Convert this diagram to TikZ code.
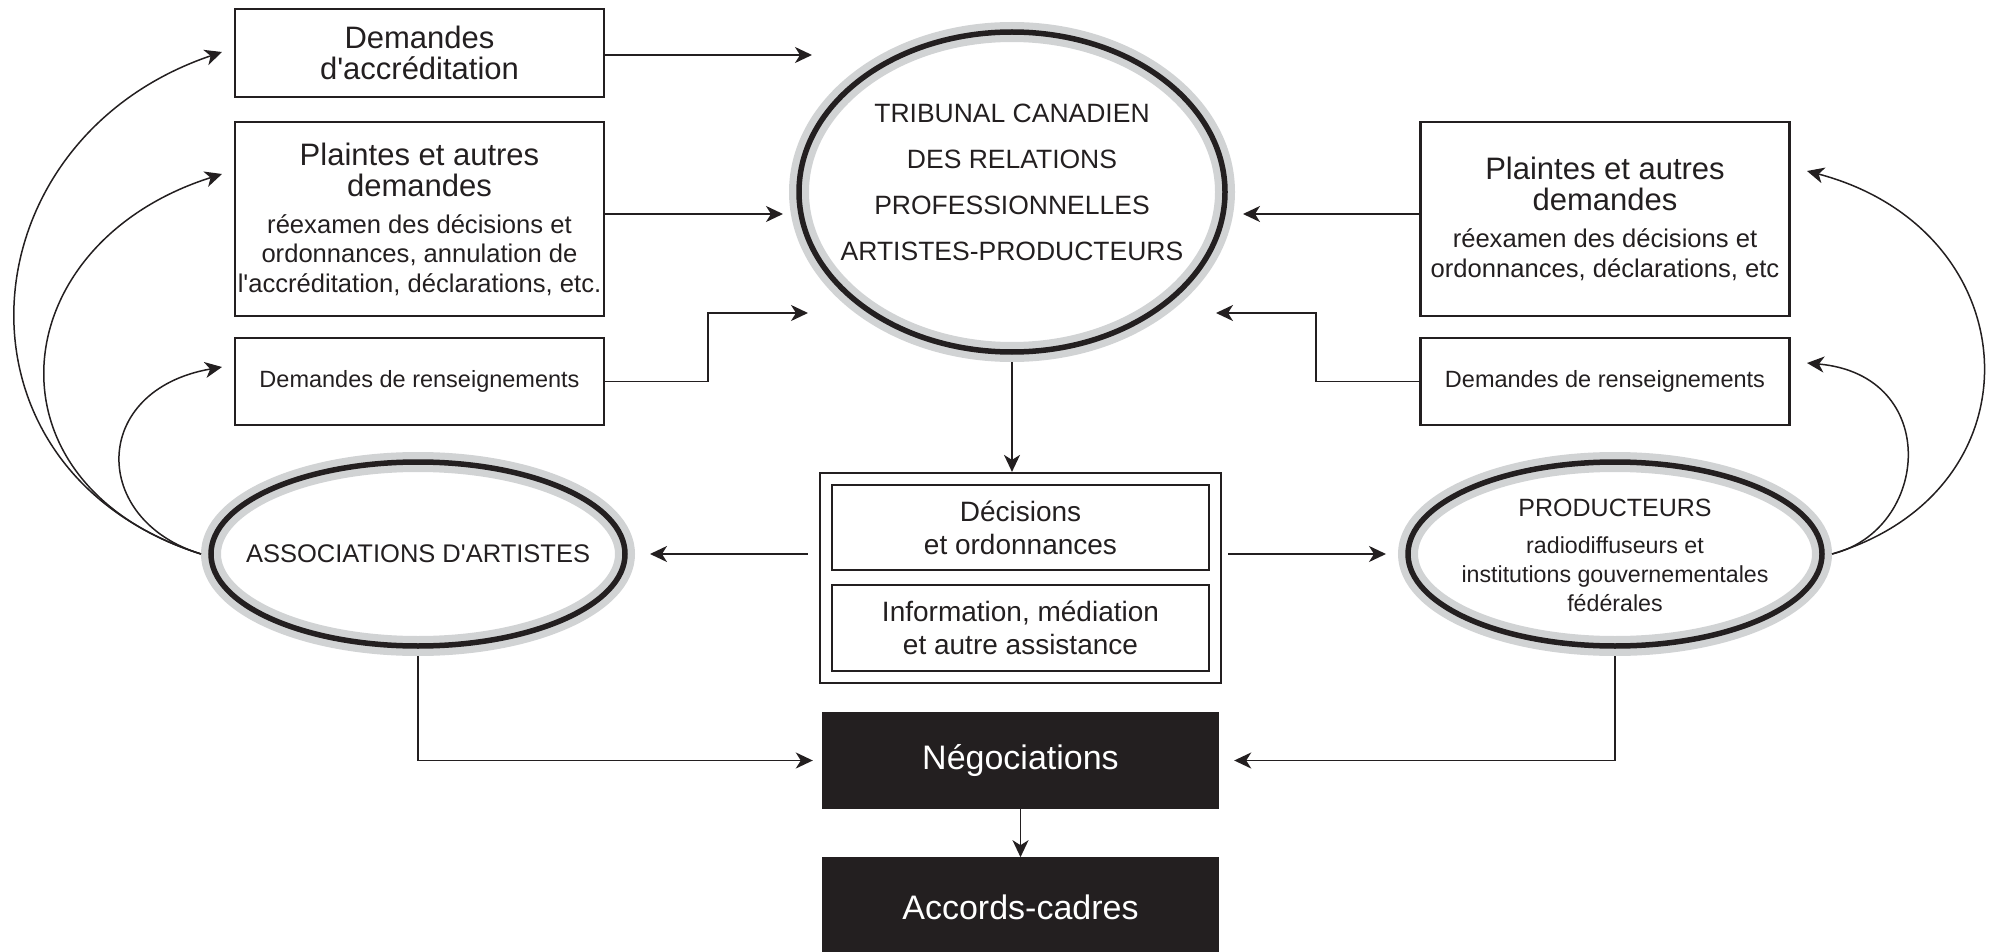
\documentclass[tikz,border=0pt]{standalone}
\usepackage{fontspec}
\setmainfont{Liberation Sans}[Ligatures=TeXOff]
\usepackage{xcolor}
\usetikzlibrary{arrows.meta,shapes.geometric,positioning}

\definecolor{ink}{HTML}{231F20}
\definecolor{ringgray}{HTML}{D1D3D4}

\newcommand{\bigtxt}{\fontsize{31}{31}\selectfont}
\newcommand{\subtxt}{\fontsize{25.6}{29.5}\selectfont\spaceskip=0pt\xspaceskip=0pt}
\newcommand{\captxt}{\fontsize{26.5}{46}\selectfont}

\begin{document}
\begin{tikzpicture}[x=1pt,y=-1pt,
	box/.style={rectangle,draw=ink,line width=2.2pt,minimum width=369pt,inner sep=0pt,
		text width=366pt,align=flush center,text=ink,font=\bigtxt},
	decbox/.style={rectangle,draw=ink,line width=2.2pt,minimum width=377pt,inner sep=0pt,
		text width=370pt,align=flush center,text=ink,font=\fontsize{28}{33}\selectfont},
	blackbox/.style={rectangle,fill=ink,minimum width=397pt,inner sep=0pt,text=white,
		font=\fontsize{34}{34}\selectfont},
	ring/.style={ellipse,draw=ink,line width=5.5pt,preaction={draw=ringgray,line width=20pt},
		inner sep=0pt,outer sep=10pt},
	ringtxt/.style={align=flush center,text=ink,inner sep=0pt},
	arr/.style={draw=ink,line width=1.9pt,-{Stealth[length=17pt,width=16pt,inset=5pt]}},
	loop/.style={draw=ink,line width=1.5pt,-{Stealth[length=17pt,width=16pt,inset=5pt]}}]
	\useasboundingbox (0,0) rectangle (1990,952);

	% left column
	\node[box,minimum height=88pt] (a1) at (419.5,53) {Demandes\\d'accréditation};
	\node[box,minimum height=194pt] (a2) at (419.5,219) {Plaintes et autres\\demandes\par\vspace{7.5pt}%
		{\subtxt réexamen des décisions et\\ordonnances, annulation de\\l'accréditation, déclarations, etc.\par}};
	\node[box,minimum height=87pt,font=\fontsize{23.5}{28}\selectfont] (a3) at (419.5,381.5) {Demandes de renseignements};

	% right column
	\node[box,minimum height=194pt] (b2) at (1605,219) {Plaintes et autres\\demandes\par\vspace{7.5pt}%
		{\subtxt réexamen des décisions et\\ordonnances, déclarations, etc\par}};
	\node[box,minimum height=87pt,font=\fontsize{23.5}{28}\selectfont] (b3) at (1605,381.5) {Demandes de renseignements};

	% ellipses
	\node[ring,minimum width=426pt,minimum height=320pt] (trib) at (1012,192) {};
	\node[ringtxt,font=\captxt] (tribtxt) at (1012,182) {TRIBUNAL CANADIEN\\DES RELATIONS\\PROFESSIONNELLES\\ARTISTES-PRODUCTEURS};
	\node[ring,minimum width=414pt,minimum height=184pt] (ass) at (418,554) {};
	\node[ringtxt,font=\fontsize{25.5}{25.5}\selectfont] (asstxt) at (ass.center) {ASSOCIATIONS D'ARTISTES};
	\node[ring,minimum width=414pt,minimum height=184pt] (prod) at (1615,554) {};
	\node[ringtxt,text width=340pt,font=\fontsize{25}{29}\selectfont] (prodtxt) at (1615,555) {PRODUCTEURS\par\vspace{8pt}%
		{\fontsize{23.2}{29}\selectfont\spaceskip=0pt\xspaceskip=0pt radiodiffuseurs et\\institutions gouvernementales\\fédérales\par}};

	% decisions
	\node[rectangle,draw=ink,line width=2.2pt,minimum width=401pt,minimum height=210pt] (dec) at (1020.5,578) {};
	\node[decbox,minimum height=85pt] (dec1) at (1020.5,527.5) {Décisions\\et ordonnances};
	\node[decbox,minimum height=86pt] (dec2) at (1020.5,628) {Information, médiation\\et autre assistance};

	% negotiations
	\node[blackbox,minimum height=97pt] (neg) at (1020.5,760.5) {Négociations};
	\node[blackbox,minimum height=100pt,below=48pt of neg] (acc) {Accords-cadres};

	% arrow ends
	\coordinate (t1) at (812,55);
	\coordinate (t2) at (783,214);
	\coordinate (k3) at (708,313);
	\coordinate (t3) at (808,313);
	\coordinate (t4) at (1243,214);
	\coordinate (k5) at (1316,313);
	\coordinate (t5) at (1216,313);
	\coordinate (c1) at (222,52);
	\coordinate (c2) at (222,174);
	\coordinate (c3) at (222,367);
	\coordinate (c4) at (1807,171);
	\coordinate (c5) at (1807,363);

	% requests to the tribunal
	\draw[arr] (a1.east |- t1) -- (t1);
	\draw[arr] (a2.east |- t2) -- (t2);
	\draw[arr] (a3.east) -| (k3) -- (t3);
	\draw[arr] (b2.west |- t4) -- (t4);
	\draw[arr] (b3.west) -| (k5) -- (t5);

	% parties send requests
	\draw[loop] (ass.west) .. controls (-62,470) and (-38,140) .. (c1);
	\draw[loop] (ass.west) .. controls (-22,484) and (2,244) .. (c2);
	\draw[loop] (ass.west) .. controls (90,520) and (90,390) .. (c3);
	\draw[loop] (prod.east) .. controls (2045,490) and (2030,230) .. (c4);
	\draw[loop] (prod.east) .. controls (1930,530) and (1942,375) .. (c5);

	% tribunal output
	\draw[arr] (trib.south) -- (trib.south |- dec.north);
	\draw[arr,shorten <=11pt,shorten >=15pt] (dec.west |- ass.east) -- (ass.east);
	\draw[arr,shorten <=6pt,shorten >=12pt] (dec.east |- prod.west) -- (prod.west);

	% bargaining
	\draw[arr,shorten >=9pt] (ass.south) |- (neg.west);
	\draw[arr,shorten >=15pt] (prod.south) |- (neg.east);
	\draw[arr] (neg.south) -- (acc.north);
\end{tikzpicture}
\end{document}
